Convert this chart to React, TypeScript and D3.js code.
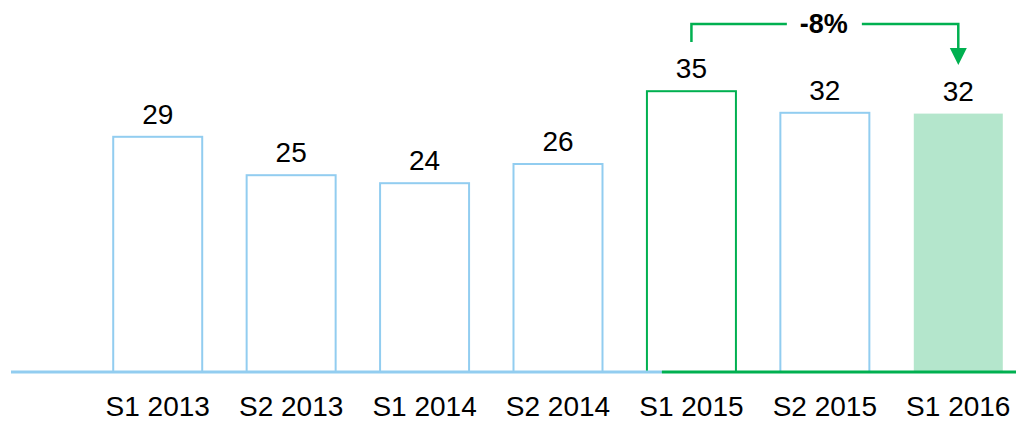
import React, { useEffect, useRef } from "react";
import * as d3 from "d3";

// periods and values
const periods = ["S1 2013", "S2 2013", "S1 2014", "S2 2014", "S1 2015", "S2 2015", "S1 2016"];
const values = [29.4, 24.6, 23.6, 26.0, 35.1, 32.4, 32.3];
const valueLabels = ["29", "25", "24", "26", "35", "32", "32"];
const changeLabel = "-8%";

const BLUE = "#92cdf0";
const GREEN = "#00b050";
const FILL = "#b4e6cc";

export default function App() {
  const ref = useRef<SVGSVGElement | null>(null);

  useEffect(() => {
    const svg = d3.select(ref.current);
    svg.selectAll("*").remove();

    const width = 1016;
    const baseY = 372;
    const font = "'Liberation Sans', Arial, sans-serif";

    const x = d3.scaleBand().domain(periods).range([91, 1025]).paddingInner(0.333).paddingOuter(0.1665);
    const y = d3.scaleLinear().domain([0, 46.5]).range([baseY, 0]);

    const fromIdx = 4;
    const toIdx = 6;

    // bars
    const bars = svg.append("g");
    periods.forEach((p, i) => {
      const last = i === toIdx;
      bars.append("rect")
        .attr("x", x(p)!)
        .attr("y", y(values[i]))
        .attr("width", x.bandwidth())
        .attr("height", baseY - y(values[i]))
        .attr("fill", last ? FILL : "none")
        .attr("stroke", last ? "none" : i === fromIdx ? GREEN : BLUE)
        .attr("stroke-width", 2);
    });

    // baseline, blue then green from the S1 2015 bar on
    const split = x(periods[fromIdx])! + 15;
    svg.append("line").attr("x1", 11).attr("x2", split).attr("y1", baseY).attr("y2", baseY)
      .attr("stroke", BLUE).attr("stroke-width", 3);
    svg.append("line").attr("x1", split).attr("x2", width).attr("y1", baseY).attr("y2", baseY)
      .attr("stroke", GREEN).attr("stroke-width", 3);

    // value labels
    svg.append("g").selectAll("text").data(periods).enter().append("text")
      .attr("x", (d) => x(d)! + x.bandwidth() / 2)
      .attr("y", (d, i) => y(values[i]) - 13)
      .attr("text-anchor", "middle")
      .style("font-family", font).style("font-size", "28px").attr("fill", "#000")
      .text((d, i) => valueLabels[i]);

    // category labels
    svg.append("g").selectAll("text").data(periods).enter().append("text")
      .attr("x", (d) => x(d)! + x.bandwidth() / 2)
      .attr("y", 416)
      .attr("text-anchor", "middle")
      .style("font-family", font).style("font-size", "28px").attr("fill", "#000")
      .text((d) => d);

    // change bracket
    const cx1 = x(periods[fromIdx])! + x.bandwidth() / 2;
    const cx2 = x(periods[toIdx])! + x.bandwidth() / 2;
    const topY = 24;
    const mid = (cx1 + cx2) / 2 - 1;
    svg.append("path")
      .attr("d", `M${cx1},42 V${topY} H${mid - 37}`)
      .attr("fill", "none").attr("stroke", GREEN).attr("stroke-width", 2.5);
    svg.append("path")
      .attr("d", `M${mid + 38},${topY} H${cx2} V50`)
      .attr("fill", "none").attr("stroke", GREEN).attr("stroke-width", 2.5);
    svg.append("path")
      .attr("d", `M${cx2 - 8.5},48 L${cx2 + 8.5},48 L${cx2},65 Z`)
      .attr("fill", GREEN);
    svg.append("text")
      .attr("x", mid).attr("y", 33)
      .attr("text-anchor", "middle")
      .style("font-family", font).style("font-size", "27px").style("font-weight", "bold")
      .attr("fill", "#000")
      .text(changeLabel);
  }, []);

  return (
    <svg
      ref={ref}
      width={1016}
      height={422}
      style={{ position: "absolute", left: 0, top: 0, background: "#fff" }}
    ></svg>
  );
}
